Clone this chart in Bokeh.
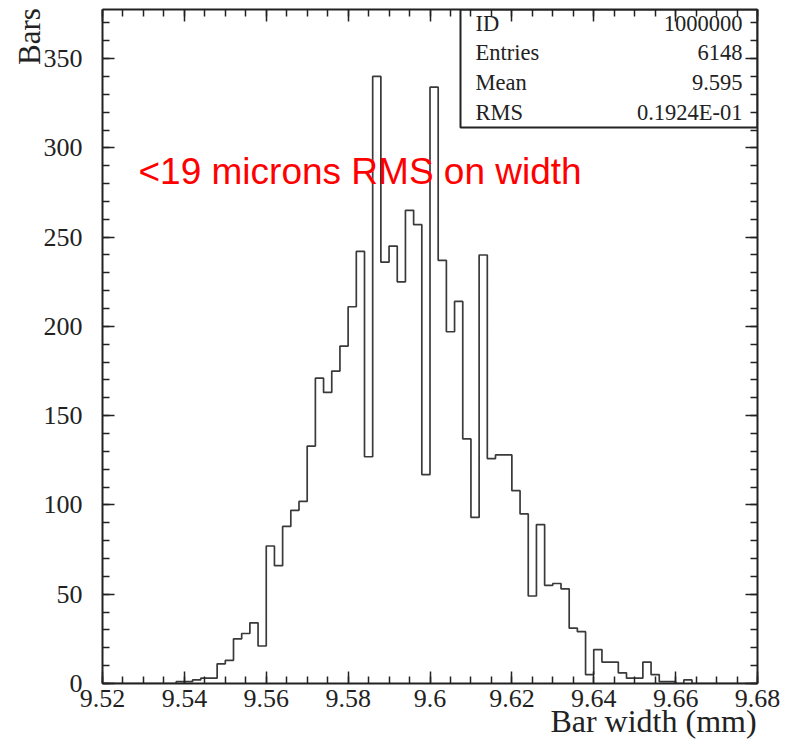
from bokeh.plotting import figure
from bokeh.models import (Range1d, LinearAxis, SingleIntervalTicker, CustomJSTickFormatter,
                          Label, BoxAnnotation, ColumnDataSource)
from bokeh.core.properties import value
from bokeh.embed import file_html
from bokeh.resources import INLINE

# ---------------- data ----------------
bin_low = 9.52
bin_width = 0.002
counts = [0, 0, 0, 0, 0, 0, 0, 0, 0, 1,
          1, 2, 3, 3, 11, 13, 25, 28, 34, 21,
          77, 66, 88, 97, 102, 133, 171, 163, 175, 189,
          211, 242, 127, 340, 236, 245, 225, 265, 257, 117,
          334, 237, 197, 214, 137, 93, 240, 126, 128, 128,
          108, 95, 49, 89, 55, 56, 53, 31, 29, 5,
          19, 12, 12, 6, 3, 3, 12, 5, 1, 1,
          0, 2, 0, 0, 0, 0, 0, 0, 0, 0]
stat_names = ["ID", "Entries", "Mean", "RMS"]
stat_values = ["1000000", "6148", "9.595", "0.1924E-01"]
x_label = "Bar width (mm)"
y_label = "Bars"
note = "<19 microns RMS on width"

# ---------------- layout ----------------
W, H = 800, 741
FL, FR, FT, FB = 102, 757, 9, 683
X0, X1 = 9.52, 9.68
Y0, Y1 = 0, 377.5
NBSP = "\u00a0"


def x_at(px):
    return X0 + (px - FL) * (X1 - X0) / (FR - FL)


def y_at(py):
    return Y0 + (FB - py) * (Y1 - Y0) / (FB - FT)


p = figure(width=W, height=H, output_backend="svg", toolbar_location=None,
           x_range=Range1d(X0, X1), y_range=Range1d(Y0, Y1),
           min_border_left=FL, min_border_right=W - FR,
           min_border_top=FT, min_border_bottom=H - FB,
           x_axis_type=None, y_axis_type=None)
p.xgrid.visible = False
p.ygrid.visible = False
p.outline_line_color = None
p.background_fill_color = "white"
p.border_fill_color = "white"

SERIF = "Liberation Serif"
blank = CustomJSTickFormatter(code="return ''")


def style_axis(ax, labels):
    ax.major_tick_in = 12
    ax.major_tick_out = 0
    ax.minor_tick_in = 7
    ax.minor_tick_out = 0
    ax.axis_line_width = 2
    ax.axis_line_color = "#222"
    ax.major_tick_line_color = "#222"
    ax.minor_tick_line_color = "#222"
    ax.major_tick_line_width = 1.5
    ax.minor_tick_line_width = 1.5
    ax.major_label_text_font = SERIF
    ax.major_label_text_font_size = "26px"
    ax.major_label_text_color = "#222"
    if not labels:
        ax.major_label_standoff = 0
    return ax


def make_x_axis(labels=True):
    fmt = CustomJSTickFormatter(code="return String(parseFloat(tick.toFixed(3)))") if labels else blank
    ax = LinearAxis(ticker=SingleIntervalTicker(interval=0.02, num_minor_ticks=4), formatter=fmt)
    style_axis(ax, labels)
    if labels:
        ax.major_label_standoff = 6
    return ax


def make_y_axis(labels=True):
    ax = LinearAxis(ticker=SingleIntervalTicker(interval=50, num_minor_ticks=5))
    if not labels:
        ax.formatter = blank
    style_axis(ax, labels)
    if labels:
        ax.major_label_standoff = 20
    return ax


# histogram outline
edges = [bin_low + bin_width * i for i in range(len(counts) + 1)]
heights = counts + [counts[-1]]
p.step(x=edges, y=heights, mode="after", line_color="#3a3a3a", line_width=1.7)

# stats box
p.add_layout(BoxAnnotation(left=x_at(460), right=X1, bottom=y_at(127), top=Y1,
                           fill_color="white", fill_alpha=1.0,
                           line_color="#222", line_alpha=1.0, line_width=2,
                           level="underlay"))
rows = list(range(len(stat_names)))
row_y = [y_at(22.5 + 29.7 * r) for r in rows]
src = ColumnDataSource(dict(y=row_y, name=stat_names, val=stat_values,
                            xl=[x_at(475)] * len(rows), xr=[x_at(742)] * len(rows)))
p.text(x="xl", y="y", text="name", source=src, text_font=value(SERIF),
       text_font_size="22.5px", text_color="#222", text_align="left",
       text_baseline="middle")
p.text(x="xr", y="y", text="val", source=src, text_font=value(SERIF),
       text_font_size="22.5px", text_color="#222", text_align="right",
       text_baseline="middle")

# red annotation
p.add_layout(Label(x=x_at(138), y=y_at(171), text=note,
                   text_font="Liberation Sans", text_font_size="37px",
                   text_color="#ff0000", text_align="left",
                   text_baseline="middle"))

# axis titles: the label is centred on the axis end, so pad it on the far side
xb = make_x_axis(True)
xb.axis_label = x_label + NBSP * 26
xb.axis_label_align = "end"
xb.axis_label_standoff = -7
xb.axis_label_text_font = SERIF
xb.axis_label_text_font_size = "32px"
xb.axis_label_text_font_style = "normal"
xb.axis_label_text_color = "#222"

yl = make_y_axis(True)
yl.axis_label = y_label + NBSP * 7
yl.axis_label_align = "end"
yl.axis_label_standoff = -6
yl.axis_label_text_font = SERIF
yl.axis_label_text_font_size = "31px"
yl.axis_label_text_font_style = "normal"
yl.axis_label_text_color = "#222"

p.add_layout(xb, "below")
p.add_layout(yl, "left")
p.add_layout(make_x_axis(False), "above")
p.add_layout(make_y_axis(False), "right")

open("out.html", "w").write(file_html(p, INLINE))
